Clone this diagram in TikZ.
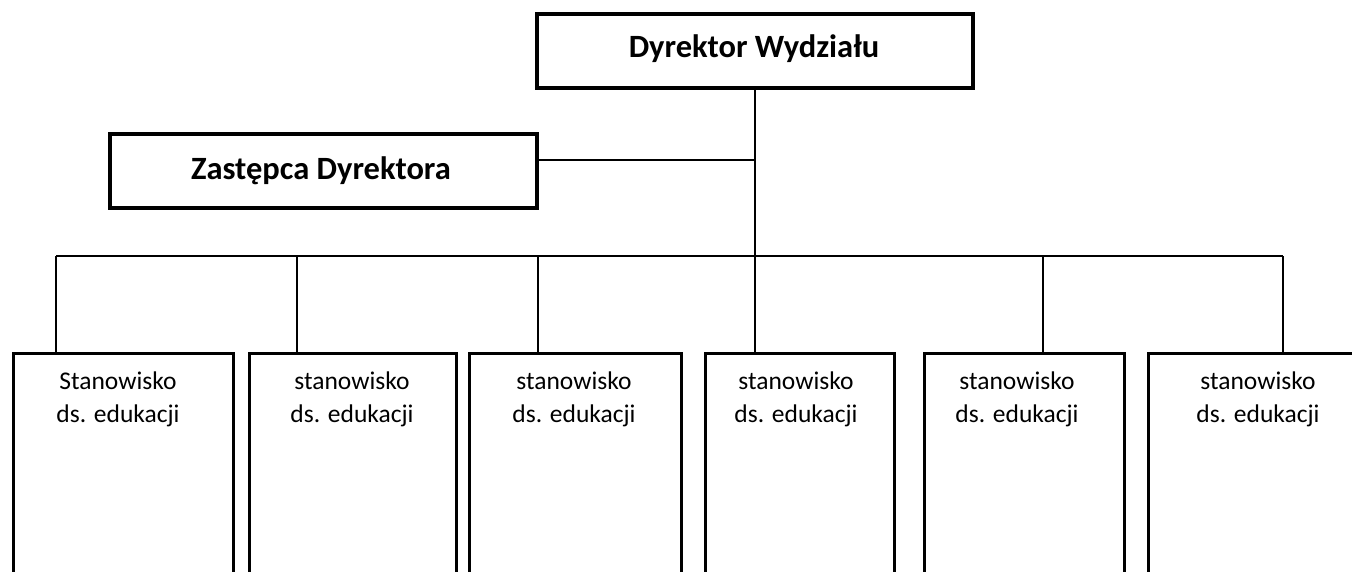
\documentclass[tikz,border=0pt]{standalone}
\usepackage{fontspec}
\setmainfont{Carlito}
\usetikzlibrary{calc}
\tikzset{
  boxA/.style={draw, line width=3.2pt, inner sep=0pt},
  wire/.style={line width=1.5pt},
  lbl/.style={align=center, font=\fontsize{25.5}{33}\selectfont, inner sep=0pt, anchor=north},
  big/.style={font=\bfseries\fontsize{32.5}{36}\selectfont, inner sep=0pt, anchor=base}
}
\begin{document}
\begin{tikzpicture}[x=1pt,y=-1pt]
\useasboundingbox (0,0) rectangle (1352,571);
\clip (0,0) rectangle (1352,571);
% top boxes
\node[boxA, minimum width=436pt, minimum height=74pt] (dyr) at (755,51) {};
\node[big] at (754,57) {Dyrektor Wydziału};
\node[boxA, minimum width=427pt, minimum height=74pt] (zas) at (323.5,171) {};
\node[big] at (321,179) {Zastępca Dyrektora};
% bottom boxes
\node[boxA, anchor=north west, minimum width=220pt, minimum height=260pt] (b1) at (12,352) {};
\node[boxA, anchor=north west, minimum width=207pt, minimum height=260pt] (b2) at (248,352) {};
\node[boxA, anchor=north west, minimum width=212pt, minimum height=260pt] (b3) at (468,352) {};
\node[boxA, anchor=north west, minimum width=189pt, minimum height=260pt] (b4) at (704,352) {};
\node[boxA, anchor=north west, minimum width=200pt, minimum height=260pt] (b5) at (923,352) {};
\node[boxA, anchor=north west, minimum width=222pt, minimum height=260pt] (b6) at (1147,352) {};
\node[lbl] (t1) at (118,372) {Stanowisko\\ds. edukacji};
\node[lbl] (t2) at (352,372) {stanowisko\\ds. edukacji};
\node[lbl] (t3) at (574,372) {stanowisko\\ds. edukacji};
\node[lbl] (t4) at (796,372) {stanowisko\\ds. edukacji};
\node[lbl] (t5) at (1017,372) {stanowisko\\ds. edukacji};
\node[lbl] (t6) at (1258,372) {stanowisko\\ds. edukacji};
% connectors
\coordinate (d1) at (56,256);
\coordinate (d2) at (297,256);
\coordinate (d3) at (538,256);
\coordinate (d4) at (755,256);
\coordinate (d5) at (1043,256);
\coordinate (d6) at (1283,256);
\draw[wire] (dyr.south) -- (dyr.south |- b4.north);
\draw[wire] ($(zas.north east)!0.36!(zas.south east)$) coordinate (ze) -- (ze -| dyr.south);
\draw[wire] (d1) -- (d6);
\draw[wire] (d1) -- (d1 |- b1.north);
\draw[wire] (d2) -- (d2 |- b2.north);
\draw[wire] (d3) -- (d3 |- b3.north);
\draw[wire] (d5) -- (d5 |- b5.north);
\draw[wire] (d6) -- (d6 |- b6.north);
\end{tikzpicture}
\end{document}
